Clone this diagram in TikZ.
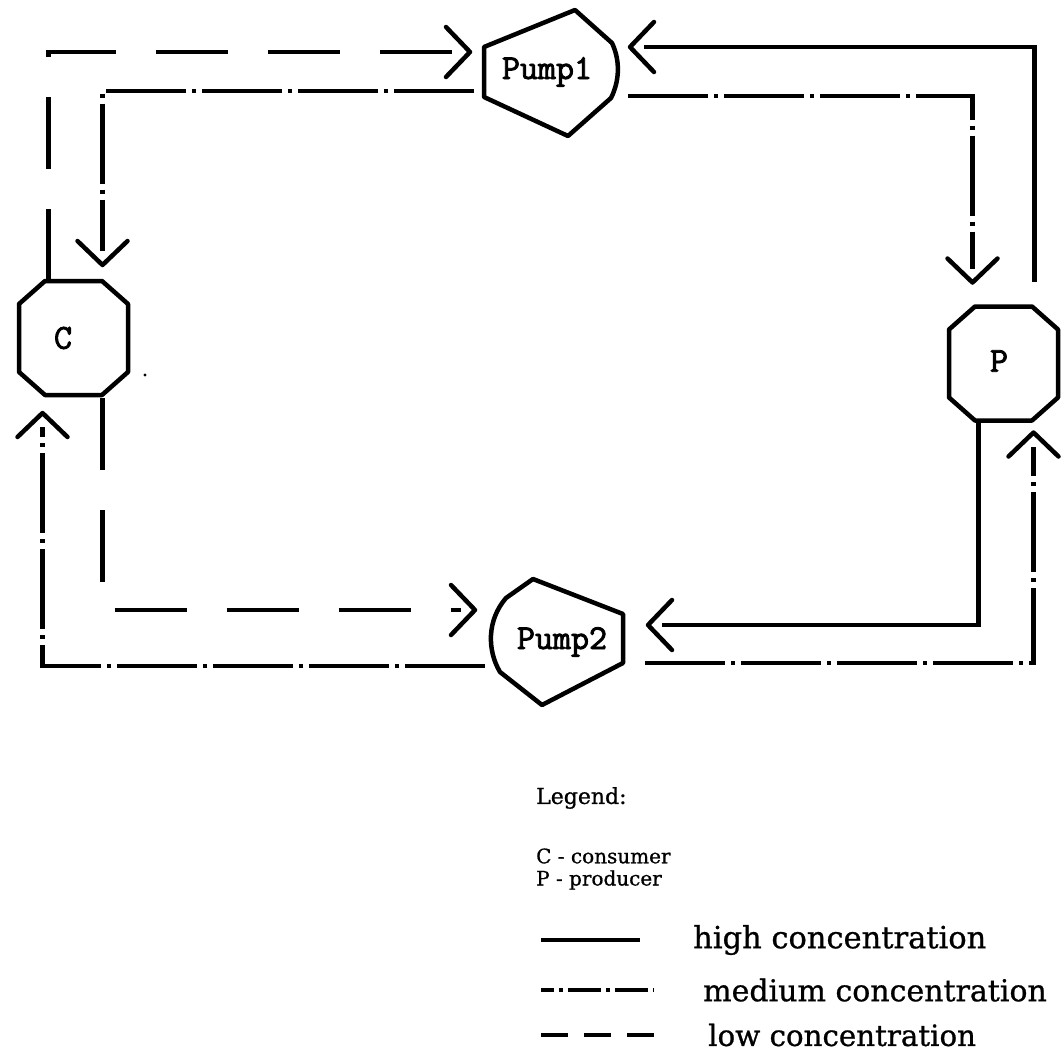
\documentclass[tikz,border=0pt]{standalone}
\usepackage{fontspec}
\setmainfont{DejaVu Serif}
\newfontfamily\legfont[FakeBold=0.8]{DejaVu Serif}
\newfontfamily\pumpfont[FakeBold=2.4]{Latin Modern Mono}
\usetikzlibrary{arrows.meta}

% open chevron tip; the shaft stops short of the point
\pgfdeclarearrow{
  name=Chev,
  parameters={\the\pgfarrowlength,\the\pgfarrowwidth},
  setup code={
    \pgfarrowssettipend{0pt}
    \pgfarrowssetlineend{-14pt}
    \pgfarrowssetbackend{-\pgfarrowlength}
    \pgfarrowssetvisualbackend{-\pgfarrowlength}
    \pgfarrowssavethe\pgfarrowlength
    \pgfarrowssavethe\pgfarrowwidth
  },
  drawing code={
    \pgfsetdash{}{0pt}
    \pgfsetroundcap
    \pgfsetroundjoin
    \pgfpathmoveto{\pgfqpoint{-\pgfarrowlength}{.5\pgfarrowwidth}}
    \pgfpathlineto{\pgfqpoint{0pt}{0pt}}
    \pgfpathlineto{\pgfqpoint{-\pgfarrowlength}{-.5\pgfarrowwidth}}
    \pgfusepathqstroke
  },
  defaults={length=24pt,width=50pt}
}

\tikzset{
  conn/.style={line width=4.5pt, line cap=butt, line join=miter, -Chev},
  high/.style={conn},
  med/.style={conn, dash pattern=on 80pt off 6pt on 4pt off 6pt},
  low/.style={conn, dash pattern=on 72pt off 40pt},
  octobox/.style={rectangle, minimum width=109pt, minimum height=114pt,
    inner sep=0pt, outer sep=0pt},
  unit/.style={line width=4.5pt, line join=round},
  tag/.style={font=\pumpfont\fontsize{35}{38}\selectfont, inner sep=0pt},
  legtxt/.style={anchor=west, inner sep=0pt},
}

% chamfered outline around a box node
\newcommand\octoutline[1]{%
  \draw[unit] ([shift={(26,0)}]#1.north west) -- ([shift={(-26,0)}]#1.north east)
    -- ([shift={(0,23)}]#1.north east) -- ([shift={(0,-23)}]#1.south east)
    -- ([shift={(-26,0)}]#1.south east) -- ([shift={(26,0)}]#1.south west)
    -- ([shift={(0,-23)}]#1.south west) -- ([shift={(0,23)}]#1.north west) -- cycle;}

\begin{document}
\begin{tikzpicture}[x=1pt,y=-1pt]
  \fill[white] (0,0) rectangle (1061,1052);
  \useasboundingbox (0,0) rectangle (1061,1052);

  % consumer and producer
  \node[octobox] (C) at (73.5,338) {};
  \octoutline{C}
  \node[tag] (Ctag) at (63,338) {C};
  \node[octobox] (P) at (1003.5,363.5) {};
  \octoutline{P}
  \node[tag] (Ptag) at (999,361) {P};

  % pump outlines
  \draw[unit] (484,47) -- (575,10) -- (612,43)
    .. controls (620,60) and (620,80) .. (611,98)
    -- (568,136) -- (484,97) -- cycle;
  \node[tag] (Pump1) at (547,72) {Pump1};

  \draw[unit] (533,579) -- (623,614) -- (623,663) -- (542,705) -- (500,672)
    .. controls (487,650) and (487,620) .. (506,598) -- cycle;
  \node[tag] (Pump2) at (562,642) {Pump2};

  % stray speck
  \fill (145,375) circle (1.6pt);

  % circuits
  \draw[low]  ([shift={(-25,0)}]C.north) |- ([shift={(-77,-20)}]Pump1.center);
  \draw[med]  ([shift={(-73,19)}]Pump1.center) -| ([shift={(29,-16)}]C.north);
  \draw[high] ([shift={(31,-25)}]P.north) |- ([shift={(83,-25)}]Pump1.center);
  \draw[med]  ([shift={(81,24)}]Pump1.center) -| ([shift={(-31,-24)}]P.north);
  \draw[high] ([shift={(-25,0)}]P.south) |- ([shift={(86,-17)}]Pump2.center);
  \draw[med]  ([shift={(83,21)}]Pump2.center) -| ([shift={(30,12)}]P.south);
  \draw[med]  ([shift={(-77,24)}]Pump2.center) -| ([shift={(-31,18)}]C.south);
  \draw[low]  ([shift={(29,3)}]C.south) |- ([shift={(-87,-32)}]Pump2.center);

  % legend
  \node[legtxt, font=\legfont\fontsize{22}{24}\selectfont] (leg) at (536,798) {Legend:};
  \node[legtxt, font=\legfont\fontsize{20}{24}\selectfont] (lc) at (536,856) {C - consumer};
  \node[legtxt, font=\legfont\fontsize{20}{24}\selectfont] (lp) at (536,880) {P - producer};

  \coordinate (hA) at (541,940);  \coordinate (hB) at (640,940);
  \coordinate (mA) at (541,990);  \coordinate (mB) at (654,990);
  \coordinate (lA) at (541,1035); \coordinate (lB) at (654,1035);
  \draw[line width=4.5pt] (hA) -- (hB);
  \draw[line width=4.5pt, dash pattern=on 33pt off 5pt on 4pt off 5pt, dash phase=20pt] (mA) -- (mB);
  \draw[line width=4.5pt, dash pattern=on 27pt off 16pt] (lA) -- (lB);

  \node[legtxt, font=\legfont\fontsize{30.5}{34}\selectfont] (lh) at (693,940) {high concentration};
  \node[legtxt, font=\legfont\fontsize{30}{34}\selectfont] (lm) at (703,990) {medium concentration};
  \node[legtxt, font=\legfont\fontsize{29.3}{34}\selectfont] (ll) at (708,1035) {low concentration};
\end{tikzpicture}
\end{document}
